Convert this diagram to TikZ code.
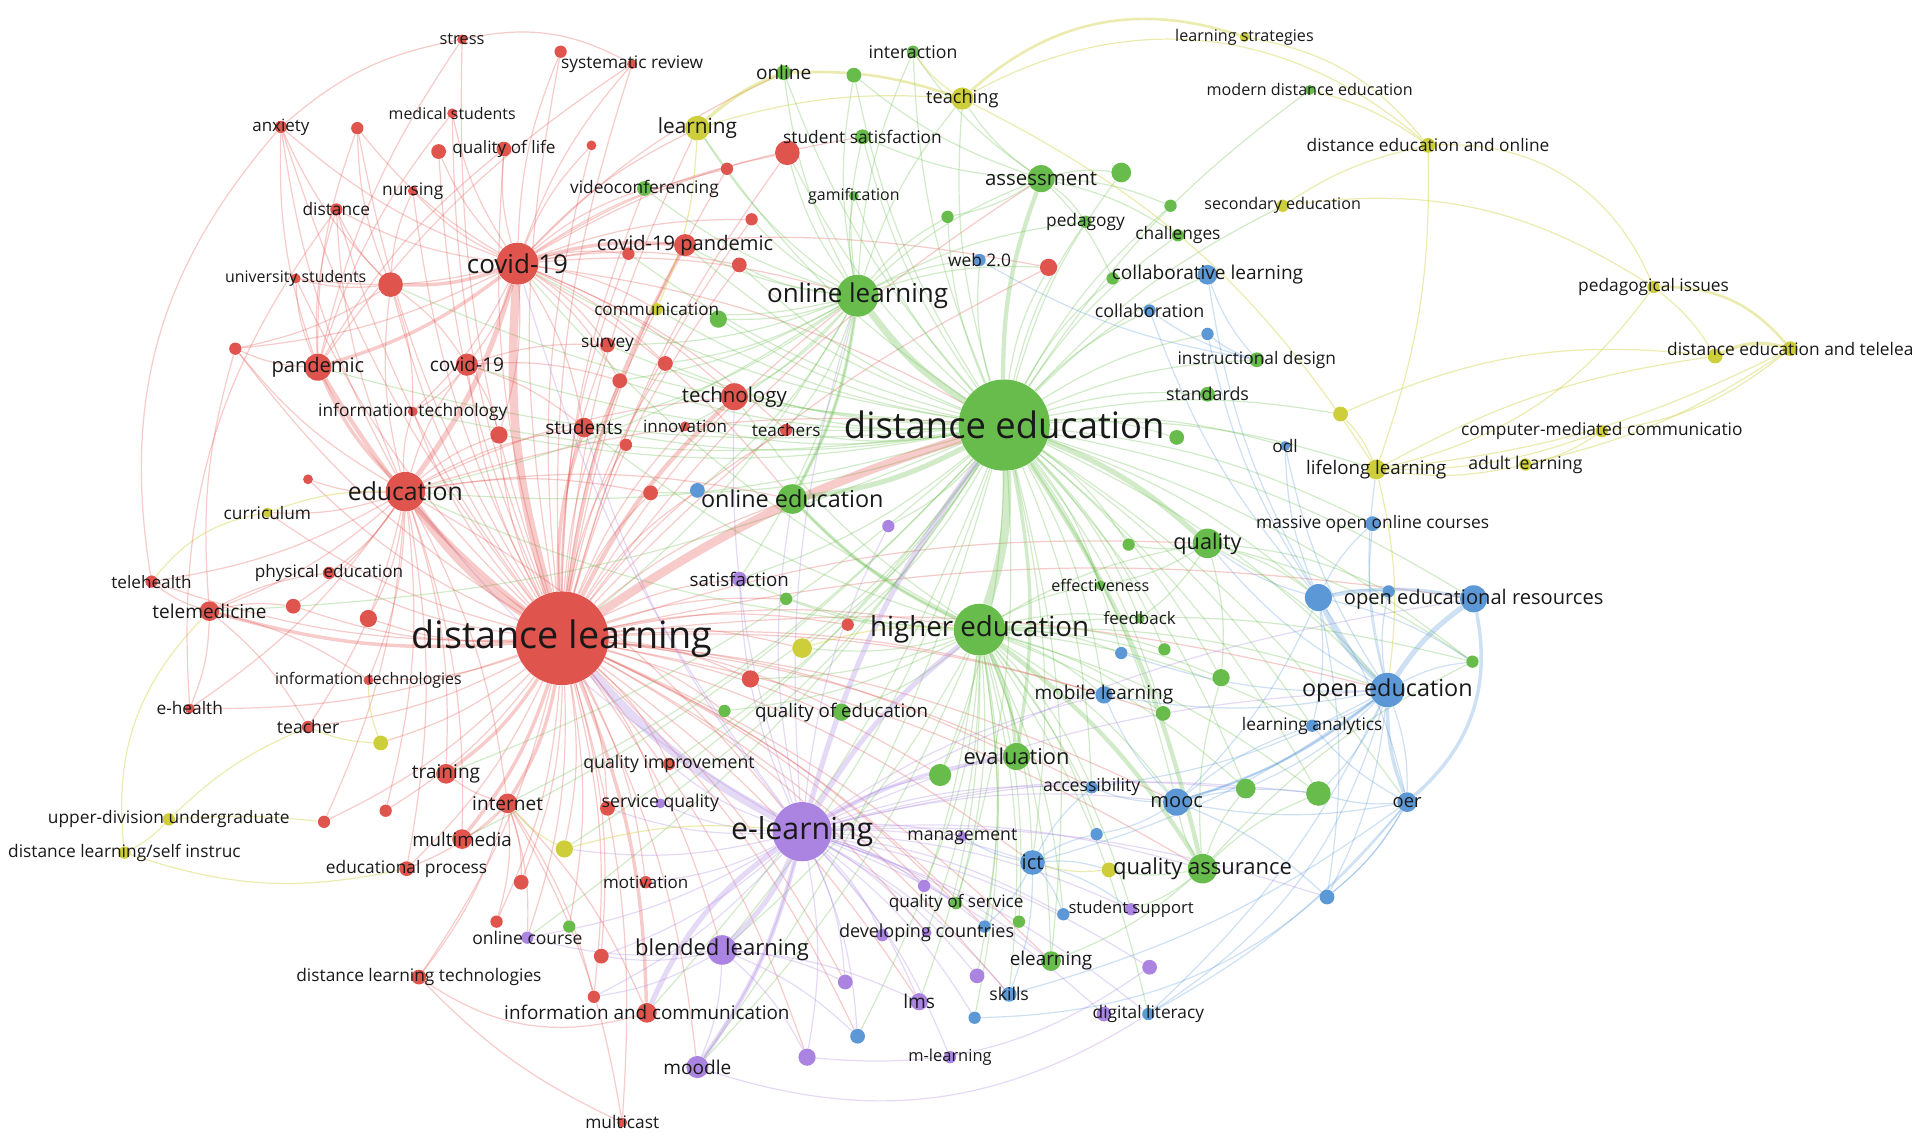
\documentclass[tikz,border=0pt]{standalone}
\usepackage{fontspec}
\setmainfont{Open Sans}
\pgfdeclarelayer{bg}
\pgfsetlayers{bg,main}
\definecolor{kred}{RGB}{224,84,78}
\definecolor{kgreen}{RGB}{104,188,76}
\definecolor{kblue}{RGB}{92,152,214}
\definecolor{kpurple}{RGB}{170,132,224}
\definecolor{kyellow}{RGB}{206,206,58}
\definecolor{ktext}{RGB}{25,25,25}

\begin{document}
\begin{tikzpicture}[x=0.025cm, y=-0.025cm,
        kw/.style={circle, inner sep=0pt, minimum size=#1*0.05cm},
        rn/.style={kw=#1, fill=kred},
        gn/.style={kw=#1, fill=kgreen},
        bn/.style={kw=#1, fill=kblue},
        pn/.style={kw=#1, fill=kpurple},
        yn/.style={kw=#1, fill=kyellow},
        f/.style={text=ktext, inner sep=0pt, font=\fontsize{#1}{#1}\selectfont},
        re/.style={draw=kred, draw opacity=.3, line width=.7pt},
        ge/.style={draw=kgreen, draw opacity=.3, line width=.7pt},
        be/.style={draw=kblue, draw opacity=.3, line width=.7pt},
        pe/.style={draw=kpurple, draw opacity=.3, line width=.7pt},
        ye/.style={draw=kyellow, draw opacity=.4, line width=.7pt}]
    \useasboundingbox (0,0) rectangle (1568,925);

    % red cluster
    \node[rn=4] (str) at (375,32) {};
    \node[rn=5] (r1) at (455,42) {};
    \node[rn=4] (sysr) at (513,52) {};
    \node[rn=5] (anx) at (228,103) {};
    \node[rn=5] (r2) at (290,104) {};
    \node[rn=4] (meds) at (367,92) {};
    \node[rn=6] (r3) at (356,123) {};
    \node[rn=6] (qol) at (409,121) {};
    \node[rn=4] (r4) at (480,118) {};
    \node[rn=4] (nurs) at (335,155) {};
    \node[rn=5] (dist) at (273,170) {};
    \node[rn=4] (unis) at (240,226) {};
    \node[rn=10] (r5) at (317,231) {};
    \node[rn=5] (r6) at (191,283) {};
    \node[rn=11] (pand) at (258,298) {};
    \node[rn=9] (cov2) at (379,296) {};
    \node[rn=4] (it) at (335,334) {};
    \node[rn=7] (r7) at (405,353) {};
    \node[rn=8] (stud) at (474,347) {};
    \node[rn=5] (r8) at (508,361) {};
    \node[rn=6] (surv) at (493,280) {};
    \node[rn=6] (r9) at (503,309) {};
    \node[rn=6] (r10) at (540,295) {};
    \node[rn=4] (r11) at (250,389) {};
    \node[rn=5] (tlh) at (123,472) {};
    \node[rn=5] (phe) at (267,465) {};
    \node[rn=8] (tlm) at (170,496) {};
    \node[rn=6] (r12) at (238,492) {};
    \node[rn=7] (r13) at (299,502) {};
    \node[rn=4] (itc) at (299,552) {};
    \node[rn=4] (eh) at (154,575) {};
    \node[rn=5] (tea) at (250,590) {};
    \node[rn=8] (trn) at (362,628) {};
    \node[rn=8] (inet) at (412,652) {};
    \node[rn=5] (r14) at (313,658) {};
    \node[rn=5] (r15) at (263,667) {};
    \node[rn=8] (mm) at (375,681) {};
    \node[rn=6] (edp) at (330,705) {};
    \node[rn=6] (r16) at (423,716) {};
    \node[rn=5] (r17) at (403,748) {};
    \node[rn=6] (r18) at (488,776) {};
    \node[rn=6] (dlt) at (340,793) {};
    \node[rn=5] (r19) at (482,809) {};
    \node[rn=8] (iac) at (525,822) {};
    \node[rn=4] (mc) at (505,911) {};
    \node[rn=5] (qimp) at (543,620) {};
    \node[rn=6] (r20) at (493,656) {};
    \node[rn=5] (mot) at (524,716) {};
    \node[rn=5] (r21) at (510,206) {};
    \node[rn=6] (r22) at (600,215) {};
    \node[rn=5] (r23) at (610,178) {};
    \node[rn=5] (r24) at (590,137) {};
    \node[rn=10] (r25) at (639,124) {};
    \node[rn=9] (cvp) at (556,199) {};
    \node[rn=11] (tech) at (596,322) {};
    \node[rn=4] (inn) at (556,346) {};
    \node[rn=5] (tchs) at (638,349) {};
    \node[rn=6] (r26) at (528,400) {};
    \node[rn=5] (r27) at (688,507) {};
    \node[rn=7] (r28) at (609,551) {};
    \node[rn=7] (r29) at (851,217) {};
    \node[rn=16] (edu) at (329,399) {};
    \node[rn=17] (cov) at (420,214) {};
    \node[rn=38] (dl) at (456,518) {};

    % green cluster
    \node[gn=5] (int) at (741,42) {};
    \node[gn=6] (onl) at (636,59) {};
    \node[gn=6] (g1) at (693,61) {};
    \node[gn=6] (ssat) at (700,111) {};
    \node[gn=6] (vc) at (523,153) {};
    \node[gn=4] (gam) at (693,159) {};
    \node[gn=5] (g2) at (769,176) {};
    \node[gn=11] (ass) at (845,145) {};
    \node[gn=8] (g3) at (910,140) {};
    \node[gn=5] (g4) at (950,167) {};
    \node[gn=5] (ped) at (881,180) {};
    \node[gn=5] (chal) at (956,191) {};
    \node[gn=5] (colg) at (903,226) {};
    \node[gn=7] (g5) at (583,259) {};
    \node[gn=6] (ins) at (1020,292) {};
    \node[gn=6] (std) at (980,320) {};
    \node[gn=6] (g6) at (955,355) {};
    \node[gn=4] (mde) at (1063,73) {};
    \node[gn=5] (g7) at (916,442) {};
    \node[gn=12] (qual) at (980,441) {};
    \node[gn=5] (g8) at (638,486) {};
    \node[gn=4] (eff) at (893,475) {};
    \node[gn=4] (fb) at (925,502) {};
    \node[gn=5] (g9) at (945,527) {};
    \node[gn=7] (g10) at (991,550) {};
    \node[gn=5] (g11) at (588,577) {};
    \node[gn=7] (qoe) at (683,578) {};
    \node[gn=6] (g12) at (944,579) {};
    \node[gn=5] (g13) at (1195,537) {};
    \node[gn=9] (g14) at (763,629) {};
    \node[gn=11] (eva) at (825,614) {};
    \node[gn=8] (g15) at (1011,640) {};
    \node[gn=10] (g16) at (1070,644) {};
    \node[gn=12] (qa) at (976,705) {};
    \node[gn=5] (qos) at (776,733) {};
    \node[gn=5] (g17) at (827,748) {};
    \node[gn=8] (elrn) at (853,780) {};
    \node[gn=5] (g18) at (462,752) {};
    \node[gn=12] (oed) at (643,405) {};
    \node[gn=17] (ol) at (696,240) {};
    \node[gn=21] (he) at (795,511) {};
    \node[gn=37] (de) at (815,345) {};

    % blue cluster
    \node[bn=5] (web) at (795,211) {};
    \node[bn=8] (cl) at (980,223) {};
    \node[bn=5] (colb) at (933,252) {};
    \node[bn=5] (b1) at (980,271) {};
    \node[bn=4] (odl) at (1043,362) {};
    \node[bn=6] (b2) at (566,398) {};
    \node[bn=6] (moc) at (1114,425) {};
    \node[bn=11] (oer1) at (1070,485) {};
    \node[bn=5] (b3) at (1127,480) {};
    \node[bn=11] (oerr) at (1196,486) {};
    \node[bn=5] (la) at (1065,589) {};
    \node[bn=5] (b4) at (910,530) {};
    \node[bn=7] (ml) at (896,564) {};
    \node[bn=5] (acc) at (886,639) {};
    \node[bn=11] (mooc) at (955,651) {};
    \node[bn=5] (b5) at (890,677) {};
    \node[bn=10] (ict) at (838,700) {};
    \node[bn=8] (oer) at (1142,651) {};
    \node[bn=6] (b6) at (1077,728) {};
    \node[bn=5] (b7) at (863,742) {};
    \node[bn=5] (b8) at (799,752) {};
    \node[bn=6] (skl) at (819,807) {};
    \node[bn=5] (dlit) at (932,823) {};
    \node[bn=5] (b9) at (791,826) {};
    \node[bn=6] (b10) at (696,841) {};
    \node[bn=14] (oe) at (1126,560) {};

    % purple cluster
    \node[pn=6] (sat) at (600,470) {};
    \node[pn=5] (p1) at (721,427) {};
    \node[pn=4] (sq) at (536,652) {};
    \node[pn=4] (mgmt) at (781,679) {};
    \node[pn=5] (p2) at (750,719) {};
    \node[pn=5] (ss) at (918,738) {};
    \node[pn=5] (p8) at (716,759) {};
    \node[pn=4] (dc) at (752,757) {};
    \node[pn=6] (p3) at (933,785) {};
    \node[pn=6] (p4) at (793,792) {};
    \node[pn=6] (p5) at (686,797) {};
    \node[pn=7] (lms) at (746,813) {};
    \node[pn=6] (p6) at (896,823) {};
    \node[pn=7] (p7) at (655,858) {};
    \node[pn=5] (mlrn) at (771,858) {};
    \node[pn=9] (mdl) at (566,866) {};
    \node[pn=5] (oc) at (428,761) {};
    \node[pn=12] (bl) at (586,771) {};
    \node[pn=24] (el) at (651,675) {};

    % yellow cluster
    \node[yn=4] (lstr) at (1010,30) {};
    \node[yn=9] (teach) at (781,80) {};
    \node[yn=10] (lrn) at (566,104) {};
    \node[yn=5] (comm) at (533,251) {};
    \node[yn=6] (deo) at (1159,118) {};
    \node[yn=5] (sec) at (1041,167) {};
    \node[yn=5] (pedi) at (1342,233) {};
    \node[yn=6] (y1) at (1392,289) {};
    \node[yn=6] (dtl) at (1453,283) {};
    \node[yn=6] (y2) at (1088,336) {};
    \node[yn=5] (cmc) at (1300,350) {};
    \node[yn=8] (lll) at (1117,381) {};
    \node[yn=5] (adl) at (1238,377) {};
    \node[yn=4] (cur) at (217,416) {};
    \node[yn=6] (y3) at (309,603) {};
    \node[yn=5] (udu) at (137,665) {};
    \node[yn=5] (dlsi) at (101,692) {};
    \node[yn=7] (y4) at (458,689) {};
    \node[yn=8] (y5) at (651,526) {};
    \node[yn=6] (y6) at (900,706) {};

    % labels
    \node[f=9.5] (str-l) at (str) {stress};
    \node[f=10] (sysr-l) at (sysr) {systematic review};
    \node[f=9.8] (anx-l) at (anx) {anxiety};
    \node[f=9.2] (meds-l) at (meds) {medical students};
    \node[f=9.9] (qol-l) at (qol) {quality of life};
    \node[f=10] (nurs-l) at (nurs) {nursing};
    \node[f=10] (dist-l) at (dist) {distance};
    \node[f=9.2] (unis-l) at (unis) {university students};
    \node[f=11.6] (pand-l) at (pand) {pandemic};
    \node[f=11] (cov2-l) at (cov2) {covid-19};
    \node[f=10] (it-l) at (it) {information technology};
    \node[f=11] (stud-l) at (stud) {students};
    \node[f=10] (surv-l) at (surv) {survey};
    \node[f=9.9] (tlh-l) at (tlh) {telehealth};
    \node[f=9.9] (phe-l) at (phe) {physical education};
    \node[f=11] (tlm-l) at (tlm) {telemedicine};
    \node[f=9.2] (itc-l) at (itc) {information technologies};
    \node[f=10] (eh-l) at (eh) {e-health};
    \node[f=10.2] (tea-l) at (tea) {teacher};
    \node[f=11] (trn-l) at (trn) {training};
    \node[f=11] (inet-l) at (inet) {internet};
    \node[f=10.8] (mm-l) at (mm) {multimedia};
    \node[f=10] (edp-l) at (edp) {educational process};
    \node[f=10] (dlt-l) at (dlt) {distance learning technologies};
    \node[f=10.9] (iac-l) at (iac) {information and communication};
    \node[f=10] (mc-l) at (mc) {multicast};
    \node[f=10.2] (qimp-l) at (qimp) {quality improvement};
    \node[f=9.8] (mot-l) at (mot) {motivation};
    \node[f=11.6] (cvp-l) at (cvp) {covid-19 pandemic};
    \node[f=11.8] (tech-l) at (tech) {technology};
    \node[f=9.8] (inn-l) at (inn) {innovation};
    \node[f=9.9] (tchs-l) at (tchs) {teachers};
    \node[f=14.3] (edu-l) at (edu) {education};
    \node[f=15] (cov-l) at (cov) {covid-19};
    \node[f=21.8] (dl-l) at (dl) {distance learning};
    \node[f=10.2] (int-l) at (int) {interaction};
    \node[f=11] (onl-l) at (onl) {online};
    \node[f=10] (ssat-l) at (ssat) {student satisfaction};
    \node[f=10] (vc-l) at (vc) {videoconferencing};
    \node[f=9.2] (gam-l) at (gam) {gamification};
    \node[f=11.8] (ass-l) at (ass) {assessment};
    \node[f=10] (ped-l) at (ped) {pedagogy};
    \node[f=10] (chal-l) at (chal) {challenges};
    \node[f=10] (ins-l) at (ins) {instructional design};
    \node[f=10.3] (std-l) at (std) {standards};
    \node[f=9.3] (mde-l) at (mde) {modern distance education};
    \node[f=12.5] (qual-l) at (qual) {quality};
    \node[f=9.3] (eff-l) at (eff) {effectiveness};
    \node[f=9.8] (fb-l) at (fb) {feedback};
    \node[f=10.8] (qoe-l) at (qoe) {quality of education};
    \node[f=12.6] (eva-l) at (eva) {evaluation};
    \node[f=12.7] (qa-l) at (qa) {quality assurance};
    \node[f=9.9] (qos-l) at (qos) {quality of service};
    \node[f=10.9] (elrn-l) at (elrn) {elearning};
    \node[f=13.5] (oed-l) at (oed) {online education};
    \node[f=15] (ol-l) at (ol) {online learning};
    \node[f=16] (he-l) at (he) {higher education};
    \node[f=21] (de-l) at (de) {distance education};
    \node[f=10] (web-l) at (web) {web 2.0};
    \node[f=11] (cl-l) at (cl) {collaborative learning};
    \node[f=10.3] (colb-l) at (colb) {collaboration};
    \node[f=10] (odl-l) at (odl) {odl};
    \node[f=10] (moc-l) at (moc) {massive open online courses};
    \node[f=11.6] (oerr-l) at (oerr) {open educational resources};
    \node[f=10] (la-l) at (la) {learning analytics};
    \node[f=11] (ml-l) at (ml) {mobile learning};
    \node[f=10.2] (acc-l) at (acc) {accessibility};
    \node[f=11.6] (mooc-l) at (mooc) {mooc};
    \node[f=11.6] (ict-l) at (ict) {ict};
    \node[f=10.6] (oer-l) at (oer) {oer};
    \node[f=10.2] (skl-l) at (skl) {skills};
    \node[f=10] (dlit-l) at (dlit) {digital literacy};
    \node[f=13.5] (oe-l) at (oe) {open education};
    \node[f=10.8] (sat-l) at (sat) {satisfaction};
    \node[f=10.2] (sq-l) at (sq) {service quality};
    \node[f=10.2] (mgmt-l) at (mgmt) {management};
    \node[f=9.6] (ss-l) at (ss) {student support};
    \node[f=10.4] (dc-l) at (dc) {developing countries};
    \node[f=11] (lms-l) at (lms) {lms};
    \node[f=9.5] (mlrn-l) at (mlrn) {m-learning};
    \node[f=11] (mdl-l) at (mdl) {moodle};
    \node[f=10.1] (oc-l) at (oc) {online course};
    \node[f=12.7] (bl-l) at (bl) {blended learning};
    \node[f=17.5] (el-l) at (el) {e-learning};
    \node[f=9.3] (lstr-l) at (lstr) {learning strategies};
    \node[f=10.5] (teach-l) at (teach) {teaching};
    \node[f=12] (lrn-l) at (lrn) {learning};
    \node[f=9.9] (comm-l) at (comm) {communication};
    \node[f=10] (deo-l) at (deo) {distance education and online};
    \node[f=9.3] (sec-l) at (sec) {secondary education};
    \node[f=10] (pedi-l) at (pedi) {pedagogical issues};
    \node[f=10] (dtl-l) at (dtl) {distance education and telelea};
    \node[f=10] (cmc-l) at (cmc) {computer-mediated communicatio};
    \node[f=10.8] (lll-l) at (lll) {lifelong learning};
    \node[f=10.2] (adl-l) at (adl) {adult learning};
    \node[f=10] (cur-l) at (cur) {curriculum};
    \node[f=10] (udu-l) at (udu) {upper-division undergraduate};
    \node[f=10] (dlsi-l) at (dlsi) {distance learning/self instruc};

    \begin{pgfonlayer}{bg}
    % links from the hubs
    \foreach \n in {str,r1,sysr,anx,r2,meds,r3,qol,r4,nurs,dist,unis,r5,r6,cov2,it,r7,r8,surv,r9,r10,r11,tlh,phe,r12,r13,itc,eh,tea,r14,r15,edp,r16,r17,r18,dlt,r19,mc,qimp,r20,mot,r21,r22,r23,r24,r25,inn,tchs,r26,r27,r28,r29,oc,y3,y4,cur,lrn,comm,sat,g8,g11,qoe,b2,sq,y5,oed,ol,he,bl,mdl,g18,p7,p5,ass,eva,qual,ict,g14,vc,mooc,oe,qa,elrn,ml,oerr,acc,g12,qos,lms,dc,p2,skl,b10,b8}
        \draw[re] (dl) to[bend left=10] (\n);
    \foreach \n in {r1,sysr,anx,r2,meds,r3,qol,r4,nurs,dist,unis,r6,cov2,stud,surv,r21,r22,r23,r24,r25,tech,ol,de,lrn,vc,tchs,it,r7,r9,r10,comm,ssat,onl,r29,oed}
        \draw[re] (cov) to[bend left=10] (\n);
    \foreach \n in {r5,r11,cur,phe,tlm,r12,r13,it,r7,tlh,itc,eh,tea,trn,stud,cov2,de,tech,el,dist,anx,r6,mm,inet,edp,r14,r15,oed,r26}
        \draw[re] (edu) to[bend left=10] (\n);
    \foreach \n in {tlh,eh,r12,phe,r6,itc,tea}
        \draw[re] (tlm) to[bend left=10] (\n);
    \foreach \n in {anx,dist,r2,qol,meds,sysr,r6,unis,str}
        \draw[re] (pand) to[bend left=10] (\n);
    \foreach \n in {cov2,it,anx,dist,unis,r6,r2,nurs}
        \draw[re] (r5) to[bend left=10] (\n);
    \foreach \n in {it,r7,stud,surv,r9}
        \draw[re] (cov2) to[bend left=10] (\n);
    \foreach \n in {mm,r16,trn,iac,r17,edp,dlt,r19,mc,oc}
        \draw[re] (inet) to[bend left=10] (\n);
    \foreach \n in {onl,g1,ssat,int,teach,gam,g2,g3,g4,ped,chal,colg,cl,colb,b1,ins,std,g6,odl,g7,eff,fb,g9,g10,g12,g13,g14,g15,g16,mooc,ict,ml,oe,oerr,oer1,lll,moc,y2,web,r29,tech,tchs,stud,comm,g5,y5,sat,p1,elrn,qos,mde,sec,la,acc,oer,b4,r25,lrn,cov,edu,pand,cov2,r7,r9,r10,r26,surv,inn,cvp,r21,r22,tlm,inet,mm,trn,iac,bl,mdl,r5,it,r28,r27,y4,oc,qimp,sq}
        \draw[ge] (de) to[bend left=10] (\n);
    \foreach \n in {qual,eff,fb,g9,g10,g12,ml,b4,g14,mooc,ict,g15,g16,acc,oed,g8,qoe,g11,y5,oe,elrn,qos,g17,b7,ss,g13,la,b5,tech,stud,cov,edu,r28,sat,bl,lms,mdl,dc,p2,p4,skl,dlit,b8,b9,b10}
        \draw[ge] (he) to[bend left=10] (\n);
    \foreach \n in {onl,g1,ssat,int,gam,ass,r25,lrn,teach,vc,g5,cvp,oed,g2,r29,web,comm,ped,r22,r23,dl,tech,stud,tchs,inn,r10,r9,surv,edu,b2,sat}
        \draw[ge] (ol) to[bend left=10] (\n);
    \foreach \n in {int,g1,ssat,g3,g4,ped,chal,colg,g2,teach}
        \draw[ge] (ass) to[bend left=10] (\n);
    \foreach \n in {g16,g15,mooc,elrn,y6,g13,g10,ss}
        \draw[ge] (qa) to[bend left=10] (\n);
    \foreach \n in {oe,oer1,b3,g7,g10,g13,eff,fb}
        \draw[ge] (qual) to[bend left=10] (\n);
    \foreach \n in {mdl,lms,p5,p7,dc,p8,p2,mgmt,sq,mot,qimp,ict,g14,p4,mlrn,b10,b9,b8,skl,elrn,ss,p3,p6,dlit,sat,p1,oc,r18,r19,b7,qa,qos,r20,y4,mooc,acc,ol,oed,tech,stud,edu,cov,oe,oerr,ml,g15,g16,b6}
        \draw[pe] (el) to[bend left=10] (\n);
    \foreach \n in {mdl,p7,p5,lms,b10,r18,r19,oc}
        \draw[pe] (bl) to[bend left=10] (\n);
    \foreach \n in {b3,la,oer,b6,mooc,moc,qual,g13,g16,ml,odl,lll,b4,acc,dlit,ict,g15}
        \draw[be] (oe) to[bend left=10] (\n);
    \foreach \n in {oer,b3,moc,g13,b6,qual,mooc,la,cl,colb,odl,b1}
        \draw[be] (oer1) to[bend left=10] (\n);
    \foreach \n in {mooc,g16,b6,dlit,la,skl}
        \draw[be] (oer) to[bend left=10] (\n);
    \foreach \n in {acc,b5,g15,g16,la,b6,ml}
        \draw[be] (mooc) to[bend left=10] (\n);
    \foreach \n in {acc,b5,mgmt,b7,b8,skl,ss,y6}
        \draw[be] (ict) to[bend left=10] (\n);
    \foreach \n in {cl,colb,b1,web}
        \draw[be] (ins) to[bend left=10] (\n);

    % heavy links
    \draw[re, line width=5pt] (dl) to[bend left=10] (cov);
    \draw[re, line width=5pt] (dl) to[bend left=10] (edu);
    \draw[re, line width=5pt] (dl) to[bend left=8] (de);
    \draw[re, line width=2.5pt] (dl) to[bend left=10] (pand);
    \draw[re, line width=2.5pt] (dl) to[bend left=10] (tech);
    \draw[re, line width=2pt] (dl) to[bend left=10] (cvp);
    \draw[re, line width=2pt] (dl) to[bend left=10] (stud);
    \draw[re, line width=2pt] (dl) to[bend left=10] (tlm);
    \draw[re, line width=2pt] (dl) to[bend left=10] (inet);
    \draw[re, line width=2pt] (dl) to[bend left=10] (mm);
    \draw[re, line width=2pt] (dl) to[bend left=10] (trn);
    \draw[re, line width=2pt] (dl) to[bend left=10] (iac);
    \draw[re, line width=3pt] (cov) to[bend left=10] (edu);
    \draw[re, line width=2pt] (cov) to[bend left=10] (pand);
    \draw[re, line width=2pt] (cov) to[bend left=10] (r5);
    \draw[re, line width=2pt] (cov) to[bend left=10] (cvp);
    \draw[re, line width=2pt] (edu) to[bend left=10] (pand);
    \draw[pe, line width=5pt] (el) to[bend left=10] (dl);
    \draw[pe, line width=3pt] (el) to[bend left=10] (bl);
    \draw[pe, line width=3pt] (el) to[bend right=15] (iac);
    \draw[pe, line width=2.5pt] (el) to[bend left=10] (mdl);
    \draw[pe, line width=3pt] (el) to[bend left=10] (de);
    \draw[pe, line width=3pt] (el) to[bend left=10] (he);
    \draw[pe, line width=2pt] (el) to[bend left=10] (eva);
    \draw[ge, line width=5pt] (de) to[bend left=10] (he);
    \draw[ge, line width=4pt] (de) to[bend left=10] (ol);
    \draw[ge, line width=3pt] (de) to[bend left=10] (oed);
    \draw[ge, line width=3pt] (de) to[bend left=10] (qual);
    \draw[ge, line width=2.5pt] (de) to[bend left=10] (ass);
    \draw[ge, line width=2pt] (de) to[bend left=10] (eva);
    \draw[ge, line width=2.5pt] (de) to[bend left=10] (qa);
    \draw[ge, line width=2.5pt] (he) to[bend left=10] (qa);
    \draw[ge, line width=2pt] (he) to[bend left=10] (eva);
    \draw[ge, line width=2pt] (he) to[bend left=10] (oed);
    \draw[ge, line width=2pt] (ol) to[bend left=10] (oed);
    \draw[be, line width=3pt] (oe) to[bend left=10] (oerr);
    \draw[be, line width=3pt] (oe) to[bend left=10] (oer1);
    \draw[be, line width=2pt] (oer1) to[bend left=10] (oerr);
    \draw[be, line width=2pt] (oe) to[bend right=10] (oer);
    \draw[be, line width=2pt] (oerr) to[bend left=30] (oer);
    \draw[be, line width=1.5pt] (oe) to[bend left=10] (mooc);

    % yellow arcs
    \draw[ye, line width=1.5pt] (teach) to[bend left=30] (lstr);
    \draw[ye] (teach) to[bend left=35] (deo);
    \draw[ye] (lstr) to[bend left=20] (deo);
    \draw[ye] (deo) to[bend left=35] (pedi);
    \draw[ye] (mde) to[bend left=10] (deo);
    \draw[ye] (deo) to[bend left=10] (lll);
    \draw[ye, line width=1.5pt] (pedi) to[bend left=25] (dtl);
    \draw[ye] (pedi) to[bend left=10] (y1);
    \draw[ye, line width=2pt] (y1) to[bend left=20] (dtl);
    \draw[ye] (dtl) to[bend left=15] (cmc);
    \draw[ye] (dtl) to[bend left=10] (adl);
    \draw[ye] (dtl) to[bend left=10] (lll);
    \draw[ye] (y1) to[bend right=10] (lll);
    \draw[ye] (y1) to[bend right=15] (y2);
    \draw[ye] (cmc) to[bend left=10] (lll);
    \draw[ye] (cmc) to[bend left=10] (adl);
    \draw[ye] (adl) to[bend left=10] (lll);
    \draw[ye] (y2) to[bend left=10] (lll);
    \draw[ye] (sec) to[bend left=10] (deo);
    \draw[ye] (sec) to[bend left=20] (pedi);
    \draw[ye] (pedi) to[bend left=20] (lll);
    \draw[ye, line width=2pt] (lrn) to[bend left=10] (onl);
    \draw[ye] (lrn) to[bend left=10] (teach);
    \draw[ye, line width=1.5pt] (onl) to[bend left=10] (teach);
    \draw[ye] (teach) to[bend left=10] (int);
    \draw[ye] (lrn) to[bend left=10] (comm);
    \draw[ye] (teach) to[bend left=15] (lll);
    \draw[ye] (udu) to[bend left=10] (dlsi);
    \draw[ye] (dlsi) to[bend right=15] (edp);
    \draw[ye] (udu) to[bend left=5] (r15);
    \draw[ye] (dlsi) to[bend left=25] (tlm);
    \draw[ye] (udu) to[bend left=10] (tea);
    \draw[ye] (cur) to[bend right=20] (tlh);
    \draw[ye] (cur) to[bend left=10] (edu);
    \draw[ye] (y3) to[bend left=10] (tea);
    \draw[ye] (y3) to[bend left=10] (itc);
    \draw[ye] (y4) to[bend left=10] (inet);
    \draw[ye] (y4) to[bend left=10] (el);
    \draw[ye] (y5) to[bend left=10] (he);
    \draw[ye] (y6) to[bend left=10] (ict);
    \draw[ye] (lll) to[bend left=10] (oe);

    % faint long arcs
    \draw[re] (anx) to[bend right=25] (tlh);
    \draw[re] (dist) to[bend right=20] (eh);
    \draw[re] (str) to[bend right=15] (anx);
    \draw[re] (str) to[bend left=20] (sysr);
    \draw[re] (dlt) to[bend right=25] (iac);
    \draw[re] (mc) to[bend left=10] (dlt);
    \draw[pe] (mdl) to[bend right=25] (dlit);
    \draw[pe] (p7) to[bend right=20] (p3);
    \draw[be] (dlit) to[bend right=20] (oe);
    \draw[be] (b6) to[bend right=10] (oer);
    \draw[be] (b9) to[bend right=25] (oer);
    \end{pgfonlayer}
\end{tikzpicture}
\end{document}
